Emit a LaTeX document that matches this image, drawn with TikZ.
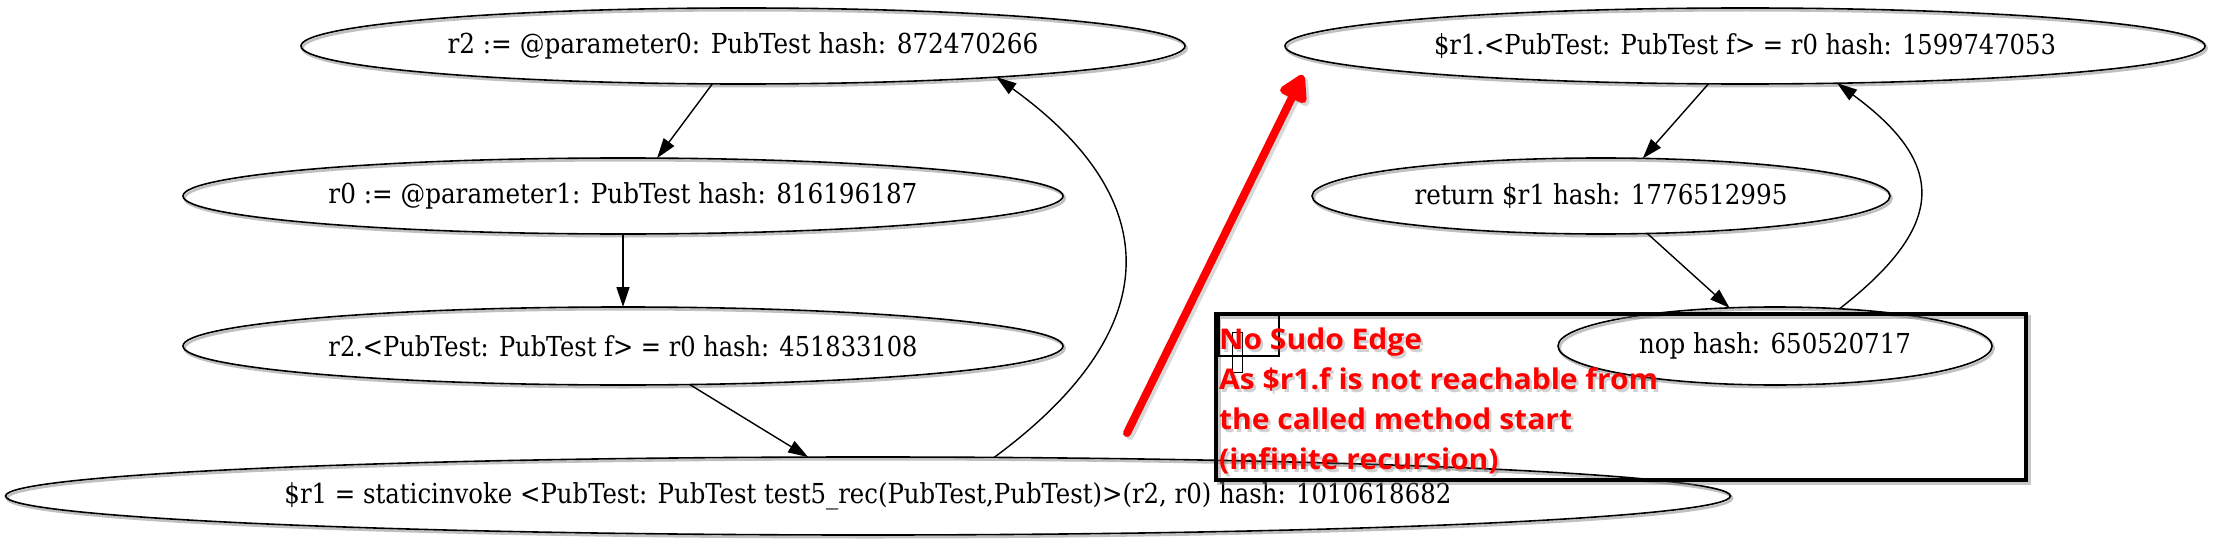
\documentclass[tikz,border=0pt]{standalone}
\usepackage{graphicx}
\usepackage{fontspec}
\setmainfont{DejaVu Serif Condensed}
\newfontfamily\notefont{Open Sans}
\usetikzlibrary{shapes.geometric,arrows.meta,shadows}
\tikzset{
  ell/.style={ellipse, draw, line width=1.6pt, inner sep=0pt, outer sep=0pt,
    font=\fontsize{27.5pt}{32pt}\selectfont,
    general shadow={draw=black!55, fill=none, line width=2.6pt, opacity=.45, shadow xshift=1.6pt, shadow yshift=-2.2pt}},
  edge/.style={line width=1.4pt, -{Triangle[length=20pt,width=13pt]}},
  notebox/.style={draw, line width=3.5pt, inner sep=0pt, anchor=north west,
    general shadow={draw=black!55, fill=none, line width=3.5pt, opacity=.4, shadow xshift=3pt, shadow yshift=-3pt}},
  cursorbox/.style={draw, line width=2pt, inner sep=0pt, anchor=north west},
  notetext/.style={anchor=base west, inner sep=0pt, text=red,
    font=\notefont\bfseries\fontsize{28.5pt}{40pt}\selectfont},
  redarrow/.style={draw=red, line width=8pt, line cap=round, -{Triangle[length=30pt,width=32pt,round]}},
  redshadow/.style={draw=black!50, opacity=.3, line width=8pt, line cap=round, -{Triangle[length=30pt,width=32pt,round]}},
}
\newcommand{\notelines}{\resizebox{439pt}{\height}{\begin{tabular}[t]{@{}l@{}}No Sudo Edge\\As \$r1.f is not reachable from\\the called method start\\(infinite recursion)\end{tabular}}}
\begin{document}
\begin{tikzpicture}[x=1pt,y=-1pt]
\useasboundingbox (0,0) rectangle (2214,543);
% left graph
\node[ell, minimum width=884pt, minimum height=76pt] (e1) at (743,46) {\resizebox{591pt}{\height}{r2 := @parameter0: PubTest hash: 872470266}};
\node[ell, minimum width=880pt, minimum height=76pt] (e2) at (623,196) {\resizebox{589pt}{\height}{r0 := @parameter1: PubTest hash: 816196187}};
\node[ell, minimum width=880pt, minimum height=78pt] (e3) at (623,346) {\resizebox{589pt}{\height}{r2.<PubTest: PubTest f> = r0 hash: 451833108}};
\node[ell, minimum width=1725pt, minimum height=78pt] (e4) at (868,496) {\resizebox{1167pt}{\height}{\$r1 = staticinvoke <PubTest: PubTest test5\_rec(PubTest,PubTest)>(r2, r0) hash: 1010618682}};
% right graph
\node[ell, minimum width=920pt, minimum height=76pt] (e5) at (1745,46) {\resizebox{622pt}{\height}{\$r1.<PubTest: PubTest f> = r0 hash: 1599747053}};
\node[ell, minimum width=578pt, minimum height=76pt] (e6) at (1601,196) {\resizebox{373pt}{\height}{return \$r1 hash: 1776512995}};
\node[ell, minimum width=434pt, minimum height=78pt] (e7) at (1775,346) {\resizebox{272pt}{\height}{nop hash: 650520717}};
% edges
\draw[edge] (e1.-129) -- (e2.48);
\draw[edge] (e2.south) -- (e3.north);
\draw[edge] (e3.-30) -- (e4.147.5);
\draw[edge] (e4.17) .. controls (1167,330) and (1167,200) .. (e1.-7.5);
\draw[edge] (e5.-134) -- (e6.42.5);
\draw[edge] (e6.-39) -- (e7.140);
\draw[edge] (e7.30) .. controls (1947,225) and (1947,164) .. (e5.-22);
% annotation box
\node[notebox, minimum width=810pt, minimum height=166pt] (box) at (1214,312) {};
\node[cursorbox, minimum width=60pt, minimum height=43pt] (cursor) at (1218,312) {};
\node[cursorbox, line width=1.2pt, minimum width=10pt, minimum height=40pt] (caret) at (1232,332) {};
\node[notetext, text=black!60, opacity=.3] (noteshadow) at (1221.5,352) {\notelines};
\node[notetext] (note) at (1219,349) {\notelines};
% red arrow
\coordinate (ra) at (1127,433);
\coordinate (rb) at (1303,75);
\coordinate (ras) at (1130,436);
\coordinate (rbs) at (1306,78);
\draw[redshadow] (ras) -- (rbs);
\draw[redarrow] (ra) -- (rb);
\end{tikzpicture}
\end{document}
